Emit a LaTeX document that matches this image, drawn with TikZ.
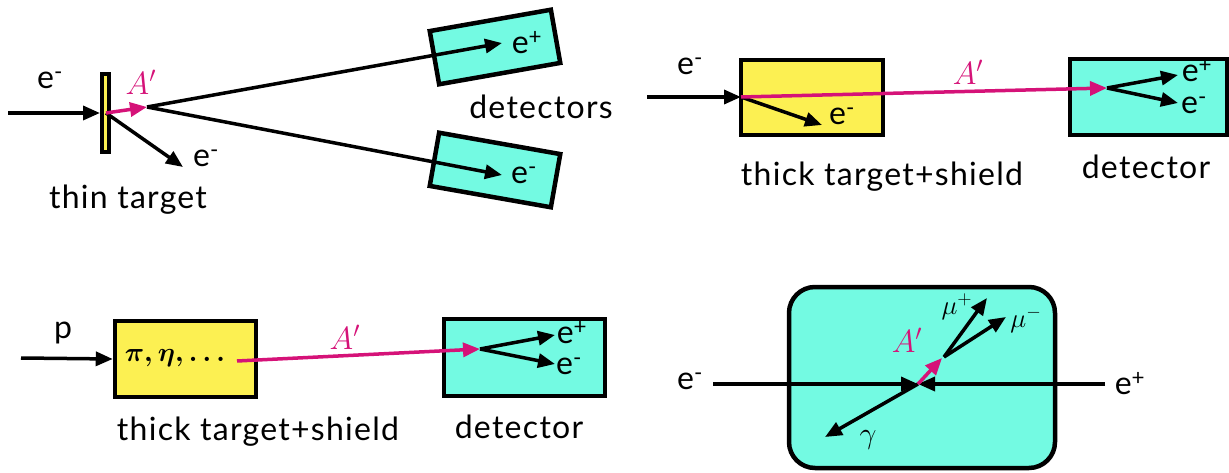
\documentclass[tikz,border=0pt]{standalone}
\usepackage{amsmath}
\usepackage{fontspec}
\setmainfont{Lato}[LetterSpace=4]
\usetikzlibrary{arrows.meta}
\definecolor{detcyan}{RGB}{115,250,226}
\definecolor{tgtyellow}{RGB}{252,240,82}
\definecolor{aprime}{RGB}{213,18,120}
\begin{document}
\begin{tikzpicture}[x=1pt,y=-1pt,
  txt/.style={inner sep=0pt,font=\fontsize{32}{38}\selectfont},
  mlab/.style={inner sep=0pt,font=\fontsize{20}{24}\selectfont,scale=1.3},
  apl/.style={inner sep=0pt,text=aprime,font=\fontsize{20}{24}\selectfont,scale=1.55},
  smath/.style={inner sep=0pt,font=\fontsize{20}{24}\selectfont,scale=#1},
  ptc/.style={line width=3.5pt,-{Triangle[length=17pt,width=14pt]}},
  aparrow/.style={line width=3.5pt,draw=aprime,-{Triangle[length=17pt,width=14pt,fill=aprime]}},
  detbox/.style={draw,line width=4.5pt,fill=detcyan,inner sep=0pt},
  tgtbox/.style={draw,line width=4.5pt,fill=tgtyellow,inner sep=0pt}]
\useasboundingbox (0,0) rectangle (1229,473);
% ---------- panel 1: thin target ----------
\node[draw,line width=4pt,fill=tgtyellow,minimum width=7pt,minimum height=78pt,inner sep=0pt] (t1) at (105.5,113) {};
\coordinate (a1) at (8,113);
\coordinate (s1) at (106,113);
\coordinate (v1) at (147,107);
\coordinate (eo1) at (183,167);
\node[detbox,rotate=10,minimum width=123pt,minimum height=54pt] (d1u) at (495,47) {};
\node[detbox,rotate=-10,minimum width=123pt,minimum height=54pt] (d1l) at (495,170) {};
\coordinate (u1) at (502,43);
\coordinate (l1) at (502,175);
\draw[ptc] (a1) -- (t1.west);
\draw[ptc] (s1) -- (eo1);
\draw[ptc] (v1) -- (u1);
\draw[ptc] (v1) -- (l1);
\draw[aparrow] (s1) -- (v1);
\node[txt] (le1) at (50,80) {e\textsuperscript{-}};
\node[apl] (la1) at (141,82) {$A'$};
\node[txt] (le1o) at (206,158) {e\textsuperscript{-}};
\node[txt] (lt1) at (128,200) {thin target};
\node[txt] (lp1) at (527,43) {e\textsuperscript{+}};
\node[txt] (lm1) at (524,175) {e\textsuperscript{-}};
\node[txt] (ld1) at (541,107) {detectors};
% ---------- panel 2: thick target, e beam ----------
\node[tgtbox,minimum width=142pt,minimum height=75pt] (t2) at (812,97.5) {};
\node[detbox,minimum width=157pt,minimum height=76pt] (d2) at (1148.5,97) {};
\coordinate (a2) at (647,97);
\coordinate (s2) at (741,97);
\coordinate (v2) at (1107,88);
\coordinate (eo2) at (822,125);
\coordinate (p2) at (1178,75);
\coordinate (m2) at (1178,103);
\draw[ptc] (a2) -- (s2);
\draw[ptc] (s2) -- (eo2);
\draw[aparrow] (s2) -- (v2);
\draw[ptc] (v2) -- (p2);
\draw[ptc] (v2) -- (m2);
\node[txt] (le2) at (690,66) {e\textsuperscript{-}};
\node[txt] (le2o) at (842,116) {e\textsuperscript{-}};
\node[apl] (la2) at (968,72) {$A'$};
\node[txt] (lp2) at (1197,71) {e\textsuperscript{+}};
\node[txt] (lm2) at (1194,105) {e\textsuperscript{-}};
\node[txt] (lt2) at (882,177) {thick target+shield};
\node[txt] (ld2) at (1146,167) {detector};
% ---------- panel 3: proton beam ----------
\node[tgtbox,minimum width=141pt,minimum height=76pt] (t3) at (185.5,359) {};
\node[detbox,minimum width=161pt,minimum height=77pt] (d3) at (524.5,357.5) {};
\coordinate (a3) at (21,358);
\coordinate (s3) at (237,361);
\coordinate (v3) at (480,349);
\coordinate (p3) at (555,335);
\coordinate (m3) at (555,364);
\draw[ptc] (a3) -- (t3.west);
\draw[aparrow] (s3) -- (v3);
\draw[ptc] (v3) -- (p3);
\draw[ptc] (v3) -- (m3);
\node[txt] (lpb) at (63,333) {p};
\node[mlab] (lpi) at (175,358) {$\boldsymbol{\pi,\eta,\ldots}$};
\node[apl] (la3) at (345,337) {$A'$};
\node[txt] (lp3) at (572,333) {e\textsuperscript{+}};
\node[txt] (lm3) at (569,366) {e\textsuperscript{-}};
\node[txt] (lt3) at (258,432) {thick target+shield};
\node[txt] (ld3) at (519,427) {detector};
% ---------- panel 4: collider ----------
\node[detbox,rounded corners=26pt,minimum width=266pt,minimum height=181pt] (d4) at (922,377.5) {};
\coordinate (em4) at (713,384);
\coordinate (ep4) at (1105,384);
\coordinate (v4) at (918,384);
\coordinate (a4) at (942,358);
\coordinate (w4) at (944,357);
\coordinate (mp4) at (987,298);
\coordinate (mm4) at (1006,317);
\coordinate (g4) at (825,437);
\draw[ptc] (em4) -- (v4);
\draw[ptc] (ep4) -- (v4);
\draw[ptc] (v4) -- (g4);
\draw[ptc] (w4) -- (mp4);
\draw[ptc] (w4) -- (mm4);
\draw[aparrow] (v4) -- (a4);
\node[txt] (le4) at (690,381) {e\textsuperscript{-}};
\node[txt] (lp4) at (1130,384) {e\textsuperscript{+}};
\node[apl] (la4) at (907,340) {$A'$};
\node[smath=1.3] (lmp) at (957,307) {$\mu^+$};
\node[smath=1.3] (lmm) at (1026,320) {$\mu^-$};
\node[smath=1.45] (lg) at (868,440) {$\gamma$};
\end{tikzpicture}
\end{document}
